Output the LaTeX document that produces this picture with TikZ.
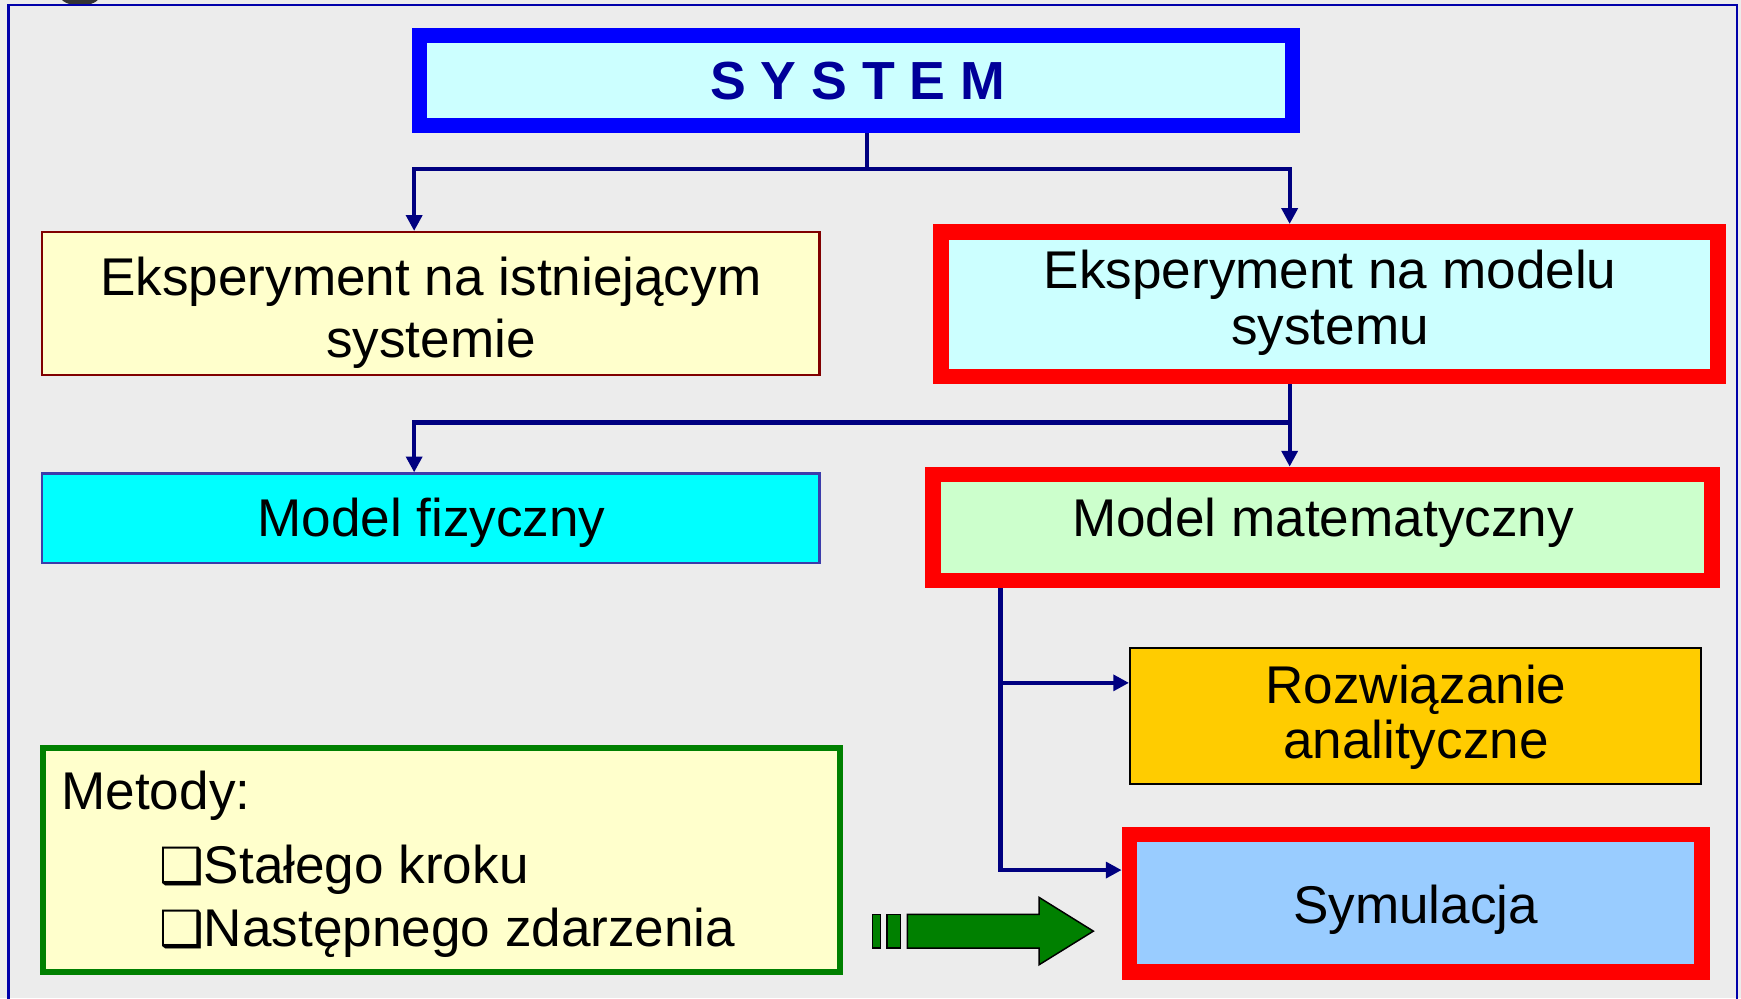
\documentclass[tikz,border=0pt]{standalone}
\usepackage{fontspec}
\setmainfont{Liberation Sans}
\newfontfamily\symfont{DejaVu Sans}
\usetikzlibrary{arrows.meta,calc}
\definecolor{bg}{RGB}{236,236,236}
\definecolor{navyc}{RGB}{0,0,128}
\definecolor{frameblue}{RGB}{0,0,170}
\definecolor{sysblue}{RGB}{0,0,255}
\definecolor{systext}{RGB}{0,0,153}
\definecolor{lcyan}{RGB}{204,255,255}
\definecolor{lyellow}{RGB}{255,255,204}
\definecolor{dred}{RGB}{128,0,0}
\definecolor{cyanf}{RGB}{0,255,255}
\definecolor{lgreen}{RGB}{204,255,204}
\definecolor{goldf}{RGB}{255,204,0}
\definecolor{lblue}{RGB}{153,204,255}
\definecolor{dgreen}{RGB}{0,128,0}
\definecolor{fizborder}{RGB}{60,60,170}
\definecolor{redb}{RGB}{255,0,0}
\newcommand\twolines[2]{\begin{tabular}[t]{@{}c@{}}#1\\#2\end{tabular}}
\newcommand\chkbox{{\symfont\fontsize{27pt}{27pt}\selectfont ❑}}
\begin{document}
\begin{tikzpicture}[x=0.6pt,y=-0.6pt,
  boxbase/.style={rectangle, inner sep=0pt},
  thinbox/.style={boxbase, line width=1.2pt},
  redbox/.style={boxbase, draw=redb, line width=8.4pt},
  txt/.style={inner sep=0pt, anchor=base, font=\fontsize{28.7pt}{33.7pt}\selectfont},
  conn/.style={draw=navyc, line width=2.3pt},
  arr/.style={conn, -{Triangle[length=8.5pt,width=8.5pt]}},
]
\clip (0,0) rectangle (1568,899);
\fill[bg] (0,0) rectangle (1568,899);
\fill[black!80] (72,-4) ellipse [x radius=18, y radius=9];
\draw[frameblue, line width=1.3pt] (7.5,905) -- (7.5,4.5) -- (1564.5,4.5) -- (1564.5,905);

% boxes
\node[boxbase, draw=sysblue, line width=8.1pt, fill=lcyan, minimum width=472.1pt, minimum height=48.6pt] (sys) at (770.8,72.8) {};
\node[thinbox, draw=dred, fill=lyellow, minimum width=420pt, minimum height=77.4pt] (exp1) at (388,273.5) {};
\node[redbox, fill=lcyan, minimum width=420.1pt, minimum height=78.1pt] (exp2) at (1197.4,273.8) {};
\node[thinbox, draw=fizborder, fill=cyanf, minimum width=420pt, minimum height=48.5pt] (fiz) at (388,466.85) {};
\node[redbox, fill=lgreen, minimum width=421pt, minimum height=57.4pt] (mat) at (1191.15,475.1) {};
\node[thinbox, draw=black, fill=goldf, minimum width=308.5pt, minimum height=73.6pt] (rozw) at (1274.9,644.7) {};
\node[redbox, fill=lblue, minimum width=309.5pt, minimum height=74.4pt] (sym) at (1275.1,813.6) {};
\node[boxbase, draw=dgreen, line width=3pt, fill=lyellow, minimum width=430.8pt, minimum height=121.2pt] (met) at (397.5,774.5) {};

% texts
\node[txt, text=systext, font=\fontsize{29pt}{33pt}\selectfont\bfseries] (systxt) at (772.5,89.5) {S Y S T E M};
\node[txt] (exp1txt) at (388,265.7) {\twolines{Eksperyment na istniejącym}{systemie}};
\node[txt, font=\fontsize{28.7pt}{30.6pt}\selectfont] (exp2txt) at (1198,259.7) {\twolines{Eksperyment na modelu}{systemu}};
\node[txt] (fiztxt) at (388.5,482.8) {Model fizyczny};
\node[txt] (mattxt) at (1191.5,482.8) {Model matematyczny};
\node[txt, font=\fontsize{28.7pt}{29.7pt}\selectfont] (rozwtxt) at (1275.2,633.5) {\twolines{Rozwiązanie}{analityczne}};
\node[txt] (symtxt) at (1275,831.6) {Symulacja};
\node[txt, anchor=base west] (mettxt) at (55,729) {Metody:};
\node[txt, anchor=base west] (item1) at (143,795.6) {\chkbox Stałego kroku};
\node[txt, anchor=base west] (item2) at (143,852.6) {\chkbox Następnego zdarzenia};

% connectors
\coordinate (j1) at (781,152.2);
\coordinate (j1L) at (373,152.2);
\coordinate (j1R) at (1161.5,152.2);
\draw[arr] (sys.south -| j1) -- (j1) -| (j1L |- exp1.north);
\draw[arr] (j1) -| (j1R |- exp2.north);

\coordinate (j2) at (1161.5,380.4);
\coordinate (j2L) at (373,380.4);
\draw[arr] (exp2.south -| j2) -- (j2 |- mat.north);
\draw[arr] (j2) -| (j2L |- fiz.north);

\coordinate (j3) at (901,615);
\coordinate (j4) at (901,783.6);
\draw[arr] (mat.south -| j3) -- (j4) -- (j4 -| sym.west);
\draw[arr] (j3) -- (j3 -| rozw.west);

% green block arrow
\begin{scope}[fill=dgreen, draw=black, line width=0.8pt]
\filldraw (786,823.5) rectangle (793.2,853.8);
\filldraw (798.9,823.5) rectangle (811.2,853.8);
\filldraw (817.2,823.5) -- (935.8,823.5) -- (935.8,808.2) -- (984.7,838.6) -- (935.8,868.9) -- (935.8,853.8) -- (817.2,853.8) -- cycle;
\end{scope}
\end{tikzpicture}
\end{document}
